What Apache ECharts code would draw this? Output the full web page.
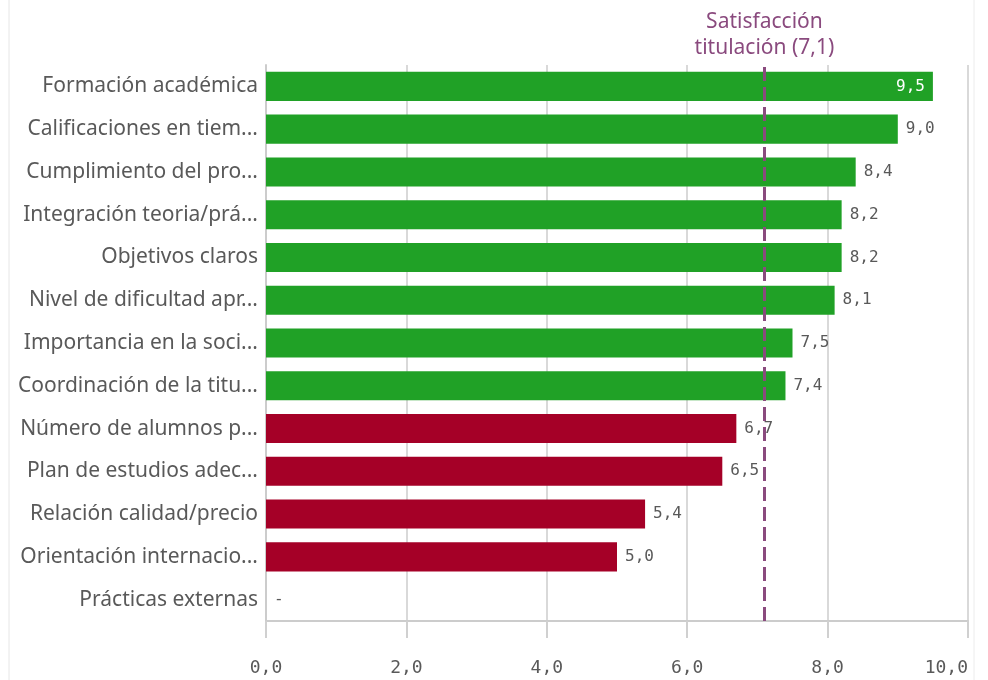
<!DOCTYPE html>
<html><head><meta charset="utf-8">
<script src="https://cdn.jsdelivr.net/npm/echarts@6/dist/echarts.min.js"></script>
<style>html,body{margin:0;padding:0;background:#fff}#c{width:988px;height:680px}</style>
</head><body><div id="c"></div>
<script>
const categories = [
  "Formación académica",
  "Calificaciones en tiem...",
  "Cumplimiento del pro...",
  "Integración teoria/prá...",
  "Objetivos claros",
  "Nivel de dificultad apr...",
  "Importancia en la soci...",
  "Coordinación de la titu...",
  "Número de alumnos p...",
  "Plan de estudios adec...",
  "Relación calidad/precio",
  "Orientación internacio...",
  "Prácticas externas"
];
const values = [9.5, 9.0, 8.4, 8.2, 8.2, 8.1, 7.5, 7.4, 6.7, 6.5, 5.4, 5.0, null];
const referenceValue = 7.1;
const referenceLabel = "Satisfacción\ntitulación (7,1)";
const xTicks = [0, 2, 4, 6, 8, 10];

const GREEN = '#20a126', RED = '#a50027', PURPLE = '#8a4a7e';
const fmt = v => v.toFixed(1).replace('.', ',');

const barData = values.map(v => {
  if (v === null) {
    return { value: 0, itemStyle: { color: 'transparent' },
      label: { formatter: '-', position: 'right', distance: 8 } };
  }
  const item = { value: v, itemStyle: { color: v >= referenceValue ? GREEN : RED } };
  if (v >= 9.5) {
    item.label = { position: 'insideRight', color: '#ffffff', distance: 8 };
  }
  return item;
});

const chart = echarts.init(document.getElementById('c'), null, { renderer: 'canvas' });
chart.setOption({
  animation: false,
  grid: { left: 266, right: 20, top: 65, bottom: 59, containLabel: false },
  xAxis: {
    type: 'value', min: xTicks[0], max: xTicks[xTicks.length - 1], interval: 2,
    axisLine: { show: true, lineStyle: { color: '#cccccc', width: 2 } },
    axisTick: { show: true, length: 17, lineStyle: { color: '#d0d0d0', width: 2 } },
    splitLine: { show: true, lineStyle: { color: '#d9d9d9', width: 2 } },
    axisLabel: { formatter: v => fmt(v), fontFamily: 'DejaVu Sans Mono', fontSize: 18,
      color: '#595959', margin: 38, alignMaxLabel: 'right' }
  },
  yAxis: {
    type: 'category', data: categories, inverse: true,
    axisLine: { show: true, lineStyle: { color: '#cccccc', width: 2 } },
    axisTick: { show: false },
    axisLabel: { fontFamily: 'Noto Sans', fontSize: 21, color: '#595959', margin: 8 }
  },
  graphic: [
    { type: 'line', shape: { x1: 9, y1: 0, x2: 9, y2: 680 }, style: { stroke: '#e6e6e6', lineWidth: 1 } },
    { type: 'line', shape: { x1: 974, y1: 0, x2: 974, y2: 680 }, style: { stroke: '#ececec', lineWidth: 1 } }
  ],
  series: [{
    type: 'bar', data: barData, barCategoryGap: '32%',
    label: { show: true, position: 'right', distance: 8, formatter: p => (p.data.label && p.data.label.formatter) ? p.data.label.formatter : fmt(p.value),
      fontFamily: 'DejaVu Sans Mono', fontSize: 16, color: '#595959' },
    markLine: {
      silent: true, symbol: 'none',
      lineStyle: { color: PURPLE, type: [14, 6], width: 3 },
      label: { show: true, position: 'end', formatter: referenceLabel, color: PURPLE,
        fontFamily: 'Noto Sans', fontSize: 21, lineHeight: 26, distance: 4 },
      data: [[{ xAxis: referenceValue, y: 621 }, { xAxis: referenceValue, y: 65 }]]
    }
  }]
});
</script></body></html>
